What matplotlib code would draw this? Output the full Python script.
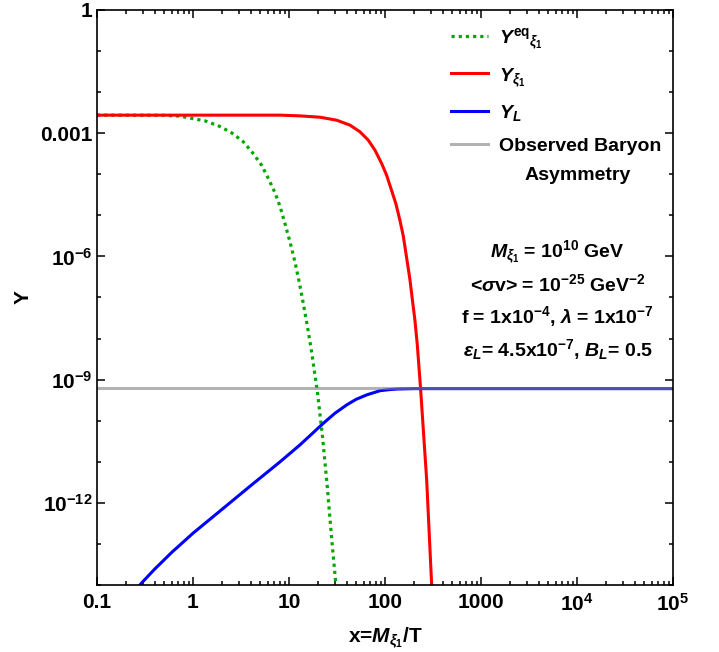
import numpy as np
import matplotlib
matplotlib.use("Agg")
import matplotlib.pyplot as plt
from matplotlib.ticker import FixedLocator, LogLocator, NullFormatter

plt.rcParams['font.family'] = ['Liberation Sans', 'DejaVu Sans']
plt.rcParams['font.weight'] = 'bold'
plt.rcParams['mathtext.fontset'] = 'custom'
plt.rcParams['mathtext.rm'] = 'Liberation Sans:bold'
plt.rcParams['mathtext.it'] = 'Liberation Sans:italic:bold'
plt.rcParams['mathtext.bf'] = 'Liberation Sans:bold'
plt.rcParams['mathtext.fallback'] = 'stixsans'

# equilibrium abundance of xi_1
x_eq = [0.1, 0.5, 0.73, 0.97, 1.33, 1.88, 2.53, 3.34, 4.19, 5.19, 6.09, 7.15,
        8.06, 9.08, 10.2, 11.5, 12.8, 14.1, 15.6, 16.9, 19.7, 22.4, 25.1,
        27.9, 31.4]
y_eq = [2.75e-3, 2.72e-3, 2.6e-3, 2.29e-3, 2.0e-3, 1.48e-3, 1.02e-3, 6.2e-4,
        3.3e-4, 1.66e-4, 7.9e-5, 3.55e-5, 1.66e-5, 6.3e-6, 2.34e-6, 7.6e-7,
        2.34e-7, 7.1e-8, 1.9e-8, 6.2e-9, 5.4e-10, 3.9e-11, 2.34e-12,
        1.26e-13, 6.3e-15]

# xi_1 abundance
x_xi = [0.1, 1, 5, 8.06, 13, 21, 31.4, 43.2, 54.9, 67, 78.7, 92.4, 104, 117,
        130, 143, 155, 168, 182, 194, 205, 217, 235, 272, 306, 310]
y_xi = [2.75e-3, 2.75e-3, 2.75e-3, 2.75e-3, 2.64e-3, 2.45e-3, 2.07e-3,
        1.57e-3, 1.08e-3, 6.75e-4, 3.85e-4, 1.82e-4, 9.46e-5, 4.07e-5,
        1.9e-5, 7.6e-6, 3.16e-6, 9.3e-7, 2.7e-7, 7.9e-8, 2.8e-8, 7.1e-9,
        5.9e-10, 3.5e-12, 1.05e-14, 6.3e-15]

# lepton asymmetry
x_L = [0.26, 0.3, 0.4, 0.6, 1.0, 2.0, 4.0, 8.0, 13.0, 22.6, 30, 40.2, 50,
       64.9, 88.7, 110, 133, 200, 1e5]
y_L = [8.3e-15, 1.2e-14, 2.45e-14, 6.2e-14, 1.82e-13, 6.9e-13, 2.63e-12,
       9.8e-12, 2.57e-11, 8.5e-11, 1.51e-10, 2.45e-10, 3.31e-10, 4.27e-10,
       5.37e-10, 5.69e-10, 5.89e-10, 6.03e-10, 6.03e-10]

Y_obs = 6.1e-10

xticks = [0.1, 1, 10, 100, 1000, 1e4, 1e5]
xticklabels = ['0.1', '1', '10', '100', '1000', r'$10^4$', r'$10^5$']
yticks = [1, 1e-3, 1e-6, 1e-9, 1e-12]
yticklabels = ['1', '0.001', r'$10^{-6}$', r'$10^{-9}$', r'$10^{-12}$']

fig = plt.figure(figsize=(7.19, 6.52), dpi=100)
ax = fig.add_axes([0.1349, 0.1028, 0.8011, 0.8819])

ax.plot(x_eq, y_eq, color='#00a800', lw=2.3, ls=(0, (1, 1.25)),
        dash_capstyle='butt', label=r'$Y^{\mathrm{eq}}{}_{\xi_1}$')
ax.plot(x_xi, y_xi, color='#ff0000', lw=2.2, label=r'$Y_{\xi_1}$')
ax.plot(x_L, y_L, color='#0000ff', lw=2.2, label=r'$Y_L$')
ax.plot([0.1, 1e5], [Y_obs, Y_obs], color='#808080', lw=2.2, alpha=0.6,
        label='Observed Baryon')

ax.set_xscale('log')
ax.set_yscale('log')
ax.set_xlim(0.1, 1e5)
ax.set_ylim(1e-14, 1)

ax.xaxis.set_major_locator(FixedLocator(xticks))
ax.set_xticklabels(xticklabels)
ax.xaxis.set_minor_locator(LogLocator(base=10, subs=np.arange(2, 10)))
ax.xaxis.set_minor_formatter(NullFormatter())
ax.yaxis.set_major_locator(FixedLocator(yticks))
ax.set_yticklabels(yticklabels)
ax.yaxis.set_minor_locator(FixedLocator([10.0 ** k for k in range(-14, 1)]))
ax.yaxis.set_minor_formatter(NullFormatter())

ax.tick_params(which='both', direction='in', top=True, right=True,
               labelsize=15, width=1.1)
ax.tick_params(which='major', length=6)
ax.tick_params(axis='x', which='major', pad=6)
ax.tick_params(axis='y', which='major', pad=3)
ax.tick_params(which='minor', length=3)
for s in ax.spines.values():
    s.set_linewidth(1.2)

ax.set_xlabel(r'x=$M_{\xi_1}$/T', fontsize=15, fontweight='bold', labelpad=7)
ax.set_ylabel('Y', fontsize=15, fontweight='bold', labelpad=6)

leg = ax.legend(loc='upper left', bbox_to_anchor=(0.591, 0.995), frameon=False,
                fontsize=14, handlelength=1.9, handletextpad=0.55,
                labelspacing=0.75, borderpad=0.2)
ax.text(0.835, 0.712, 'Asymmetry', transform=ax.transAxes, fontsize=14,
        ha='center', va='center')

info = (r'$M_{\xi_1}$ = 10$^{10}$ GeV' + '\n'
        r'<$\sigma$v> = 10$^{-25}$ GeV$^{-2}$' + '\n'
        r'f = 1x10$^{-4}$, $\lambda$ = 1x10$^{-7}$' + '\n'
        r'$\epsilon_L$= 4.5x10$^{-7}$, $B_L$= 0.5')
ax.text(0.8, 0.495, info, transform=ax.transAxes, fontsize=14,
        ha='center', va='center', multialignment='center', linespacing=1.45)

fig.savefig('out.png', dpi=100)
